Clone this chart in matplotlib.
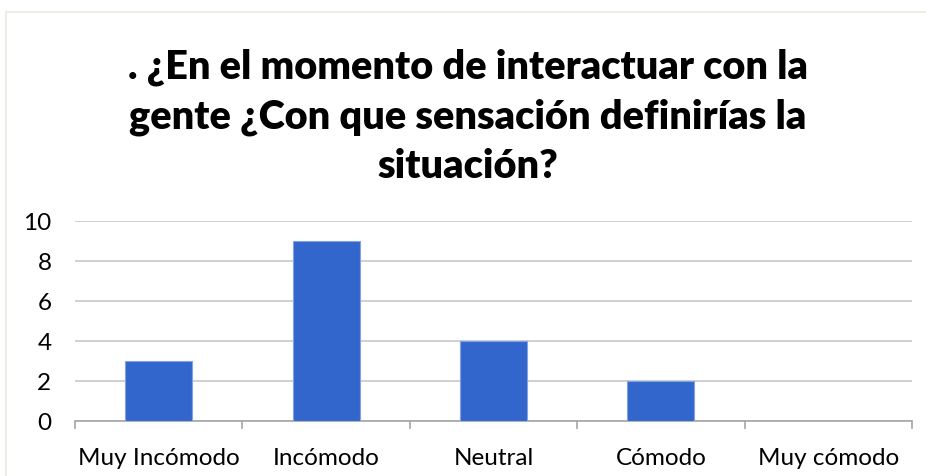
import matplotlib
matplotlib.use("Agg")
import matplotlib.pyplot as plt
from matplotlib.patches import Rectangle

categories = ["Muy Incómodo", "Incómodo", "Neutral", "Cómodo", "Muy cómodo"]
values = [3, 9, 4, 2, 0]
title = ". ¿En el momento de interactuar con la\ngente ¿Con que sensación definirías la\nsituación?"
yticks = [0, 2, 4, 6, 8, 10]

plt.rcParams['font.family'] = ['Lato', 'DejaVu Sans']

W, H = 926, 477
fig = plt.figure(figsize=(W / 100, H / 100), dpi=100)
fig.patch.set_facecolor("white")

# chart border (partly cut off at right/bottom)
fig.patches.append(Rectangle((5.5 / W, -0.05), 1.1, 1 - 12.5 / H + 0.05,
                             transform=fig.transFigure, fill=False,
                             edgecolor="#ece9df", linewidth=1.2))

ax = fig.add_axes([75 / W, 1 - 422 / H, (912 - 75) / W, 200 / H])
x = range(len(categories))
ax.bar(x, values, width=0.4, color="#3366cc", edgecolor="#7fa3e6", linewidth=0.8, zorder=3)

ax.set_xlim(-0.5, len(categories) - 0.5)
ax.set_ylim(0, 10)
ax.set_yticks(yticks)
ax.grid(axis="y", color="#c8c8c8", linewidth=1.2, zorder=0)
for s in ["top", "right", "left"]:
    ax.spines[s].set_visible(False)
ax.spines["bottom"].set_color("#a6a6a6")
ax.spines["bottom"].set_linewidth(1.2)

ax.set_xticks([i + 0.5 for i in range(-1, len(categories))], minor=True)
ax.set_xticks(list(x))
ax.set_xticklabels(categories, fontsize=17.5, color="#000000")
ax.tick_params(axis="x", which="major", length=0, pad=18.5)
ax.tick_params(axis="x", which="minor", length=6, width=1.2, color="#a6a6a6")
ax.tick_params(axis="y", length=0, pad=17, labelsize=17.5, labelcolor="#000000")

fig.text(468 / W, 1 - 48 / H, title, ha="center", va="top", fontsize=28.5,
         fontweight="heavy", linespacing=1.42)

fig.savefig("out.png", dpi=100)
